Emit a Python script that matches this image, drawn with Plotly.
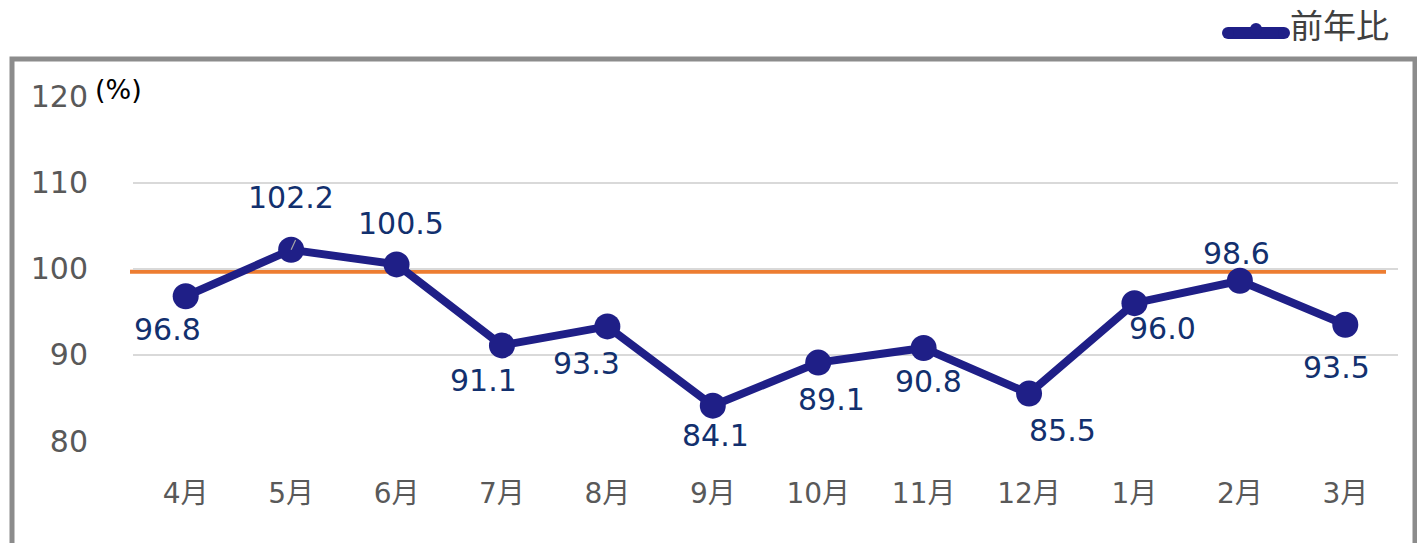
import plotly.graph_objects as go

# ---- data ----
months = ["4月", "5月", "6月", "7月", "8月", "9月", "10月", "11月", "12月", "1月", "2月", "3月"]
yoy_values = [96.8, 102.2, 100.5, 91.1, 93.3, 84.1, 89.1, 90.8, 85.5, 96.0, 98.6, 93.5]
baseline_value = 100
y_ticks = [80, 90, 100, 110, 120]
series_name = "前年比"

# label offsets (px) for data labels
label_dx = [-18, 0, 4, -18, -21, 3, 13, 5, 33, 28, -3, -9]
label_dy = [-33, 52, 41, -35, -37, -30, -37, -34, -37, -25, 27, -43]

OFF = 8  # page body margin
W, H = 1425 - OFF - 8, 543 - OFF
L, R, T = 133 - OFF, 19, 96 - OFF
B = H - (441 - OFF)
PW, PH = W - L - R, H - T - B


def px(x):  # x given in screenshot pixels
    return (x - OFF - L) / PW


def py(y):  # y given in screenshot pixels
    return (H - B - (y - OFF)) / PH


FONT = "DejaVu Sans, Noto Sans CJK JP"
LINE_COLOR = "#1F1F87"
LABEL_COLOR = "#12306E"

fig = go.Figure()

fig.add_trace(go.Scatter(
    x=months, y=yoy_values, mode="lines+markers", name=series_name,
    line=dict(color=LINE_COLOR, width=8),
    marker=dict(color=LINE_COLOR, size=26),
    showlegend=False, cliponaxis=False,
))

# baseline (orange), drawn just under the series
fig.add_shape(type="line", xref="paper", yref="y", ysizemode="pixel", yanchor=baseline_value,
              x0=px(130), x1=px(1386), y0=-3, y1=-3,
              line=dict(color="#ED7D31", width=4), layer="between")

# data labels
for m, v, dx, dy in zip(months, yoy_values, label_dx, label_dy):
    fig.add_annotation(x=m, y=v, text=f"{v:.1f}", showarrow=False,
                       xshift=dx, yshift=dy,
                       font=dict(family=FONT, size=30, color=LABEL_COLOR))

# tiny leader line at 5月
fig.add_annotation(x=months[1], y=yoy_values[1], ax=6, ay=-13, axref="pixel", ayref="pixel",
                   showarrow=True, arrowhead=0, arrowwidth=1.2, arrowcolor="#A6A6A6",
                   text="", standoff=0, startstandoff=2)

# (%) unit
fig.add_annotation(xref="paper", yref="paper", x=px(93), y=py(89), xanchor="left",
                   yanchor="middle", text="(%)", showarrow=False,
                   font=dict(family=FONT, size=27, color="#000000"))

# outer border
fig.add_shape(type="rect", xref="paper", yref="paper",
              x0=px(12), x1=px(1415), y0=py(59), y1=py(570),
              line=dict(color="#8C8C8C", width=5), layer="below")

# legend (manual): thick line with rounded ends and a small marker bump
fig.add_shape(type="line", xref="paper", yref="paper",
              x0=px(1228), x1=px(1284), y0=py(33), y1=py(33),
              line=dict(color=LINE_COLOR, width=12))
for cx in (1228, 1284):
    fig.add_shape(type="circle", xref="paper", yref="paper",
                  x0=px(cx - 6), x1=px(cx + 6), y0=py(39), y1=py(27),
                  fillcolor=LINE_COLOR, line=dict(width=0))
fig.add_shape(type="circle", xref="paper", yref="paper",
              x0=px(1250), x1=px(1262), y0=py(35), y1=py(23),
              fillcolor=LINE_COLOR, line=dict(width=0))
fig.add_annotation(xref="paper", yref="paper", x=px(1288), y=py(26), xanchor="left",
                   yanchor="middle", text=series_name, showarrow=False, height=34,
                   font=dict(family=FONT, size=33, color="#404040"))

fig.update_layout(
    width=W, height=H,
    margin=dict(l=L, r=R, t=T, b=B),
    paper_bgcolor="white", plot_bgcolor="white",
    font=dict(family=FONT),
    xaxis=dict(
        type="category", categoryorder="array", categoryarray=months,
        range=[-0.5, len(months) - 0.5],
        showgrid=False, zeroline=False, showline=False, ticks="",
        tickfont=dict(family=FONT, size=28, color="#595959"),
        ticklabelstandoff=33, fixedrange=True, automargin=False,
    ),
    yaxis=dict(
        range=[80, 120.05], tickvals=y_ticks, showgrid=True, gridcolor="#D9D9D9",
        gridwidth=1.5, zeroline=False, showline=False, ticks="",
        tickfont=dict(family=FONT, size=30, color="#595959"),
        ticklabelstandoff=44, fixedrange=True, automargin=False,
    ),
)

fig.write_html("out.html")
